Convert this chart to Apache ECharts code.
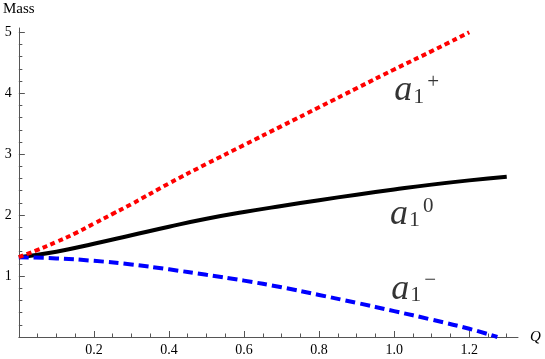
<!DOCTYPE html>
<html>
<head>
<meta charset="utf-8">
<script src="https://cdn.jsdelivr.net/npm/echarts@6/dist/echarts.min.js"></script>
<style>
  html, body { margin: 0; padding: 0; background: #fff; }
  #chart { width: 545px; height: 359px; }
</style>
</head>
<body>
<div id="chart"></div>
<script>
// curves: Q on x, mass on y
const qRed = [0, 0.05, 0.1, 0.15, 0.2, 0.25, 0.3, 0.4, 0.5, 0.6, 0.7, 0.8, 0.9, 1.0, 1.1, 1.2]
const massRed = [1.31, 1.43, 1.56, 1.7, 1.86, 2.02, 2.18, 2.52, 2.84, 3.15, 3.46, 3.77, 4.08, 4.39, 4.69, 5.0]

const qBlack = [0, 0.1, 0.2, 0.3, 0.4, 0.5, 0.6, 0.7, 0.8, 0.9, 1.0, 1.1, 1.2, 1.3]
const massBlack = [1.31, 1.4, 1.53, 1.67, 1.81, 1.94, 2.05, 2.15, 2.245, 2.335, 2.42, 2.5, 2.57, 2.63]

const qBlue = [0, 0.1, 0.2, 0.3, 0.4, 0.5, 0.6, 0.7, 0.8, 0.9, 1.0, 1.1, 1.2, 1.275]
const massBlue = [1.31, 1.29, 1.25, 1.19, 1.11, 1.02, 0.925, 0.815, 0.69, 0.56, 0.425, 0.285, 0.135, 0.0]

// tick labels
const xTicks = [0.2, 0.4, 0.6, 0.8, 1.0, 1.2]
const yTicks = [1, 2, 3, 4, 5]

// curve names placed in data coordinates
const labelText = ['{a|a}{s|1}{p|+}', '{a|a}{s|1}{p|0}', '{a|a}{s|1}{p|\u2212}']
const labelQ = [1.06, 1.047, 1.052]
const labelMass = [4.04, 2.01, 0.78]

const pairs = (xs, ys) => xs.map((x, i) => [x, ys[i]])

// minor tick positions between the labelled ones
const xMinor = []
for (let i = 1; i <= 26; i++) if (i % 4 !== 0) xMinor.push(+(i * 0.05).toFixed(2))
const yMinor = []
for (let i = 1; i <= 24; i++) if (i % 5 !== 0) yMinor.push(+(i * 0.2).toFixed(1))

const serif = 'Liberation Serif, Times New Roman, DejaVu Serif, Tinos, serif'
const axisGray = '#555'

const chart = echarts.init(document.getElementById('chart'))

chart.setOption({
  animation: false,
  grid: { left: 17, right: 27, top: 28, bottom: 22 },
  xAxis: [
    {
      type: 'value',
      min: 0,
      max: 1.33,
      name: 'Q',
      nameLocation: 'end',
      nameGap: 12,
      nameTextStyle: { fontFamily: serif, fontStyle: 'italic', fontSize: 15, color: '#000' },
      axisLine: { show: true, onZero: false, lineStyle: { color: axisGray, width: 1 } },
      axisTick: { show: true, inside: true, length: 6, customValues: [0].concat(xTicks), lineStyle: { color: axisGray } },
      axisLabel: {
        customValues: xTicks,
        formatter: (v) => v.toFixed(1),
        fontFamily: serif,
        fontSize: 14,
        color: '#000',
        margin: 6
      },
      splitLine: { show: false }
    },
    {
      type: 'value',
      min: 0,
      max: 1.33,
      position: 'bottom',
      axisLine: { show: false },
      axisTick: { show: true, inside: true, length: 3.5, customValues: xMinor, lineStyle: { color: axisGray } },
      axisLabel: { show: false },
      splitLine: { show: false }
    }
  ],
  yAxis: [
    {
      type: 'value',
      min: 0,
      max: 5.07,
      name: 'Mass',
      nameLocation: 'end',
      nameGap: 11,
      nameTextStyle: { fontFamily: serif, fontSize: 15, color: '#000', align: 'center' },
      axisLine: { show: true, onZero: false, lineStyle: { color: axisGray, width: 1 } },
      axisTick: { show: true, inside: true, length: 6, customValues: yTicks, lineStyle: { color: axisGray } },
      axisLabel: {
        customValues: yTicks,
        fontFamily: serif,
        fontSize: 14,
        color: '#000',
        margin: 7
      },
      splitLine: { show: false }
    },
    {
      type: 'value',
      min: 0,
      max: 5.07,
      position: 'left',
      axisLine: { show: false },
      axisTick: { show: true, inside: true, length: 3.5, customValues: yMinor, lineStyle: { color: axisGray } },
      axisLabel: { show: false },
      splitLine: { show: false }
    }
  ],
  series: [
    {
      name: 'a1 0',
      type: 'line',
      smooth: true,
      symbol: 'none',
      data: pairs(qBlack, massBlack),
      lineStyle: { color: '#000', width: 4 }
    },
    {
      name: 'a1 -',
      type: 'line',
      smooth: true,
      symbol: 'none',
      data: pairs(qBlue, massBlue),
      lineStyle: { color: '#0000ff', width: 4, type: [10, 5] }
    },
    {
      name: 'a1 +',
      type: 'line',
      smooth: true,
      symbol: 'none',
      data: pairs(qRed, massRed),
      lineStyle: { color: '#ff0000', width: 4, type: [5, 3.5] }
    },
    {
      type: 'scatter',
      symbolSize: 0,
      silent: true,
      data: labelQ.map((q, i) => ({
        value: [q, labelMass[i]],
        label: { formatter: labelText[i] }
      })),
      label: {
        show: true,
        position: 'inside',
        color: '#000',
        rich: {
          a: { fontFamily: serif, fontStyle: 'italic', fontSize: 36, color: '#000' },
          s: { fontFamily: serif, fontSize: 22, color: '#000', padding: [12, 0, 0, 1] },
          p: { fontFamily: serif, fontSize: 21, color: '#000', padding: [0, 0, 17, 3] }
        }
      }
    }
  ]
})
</script>
</body>
</html>
